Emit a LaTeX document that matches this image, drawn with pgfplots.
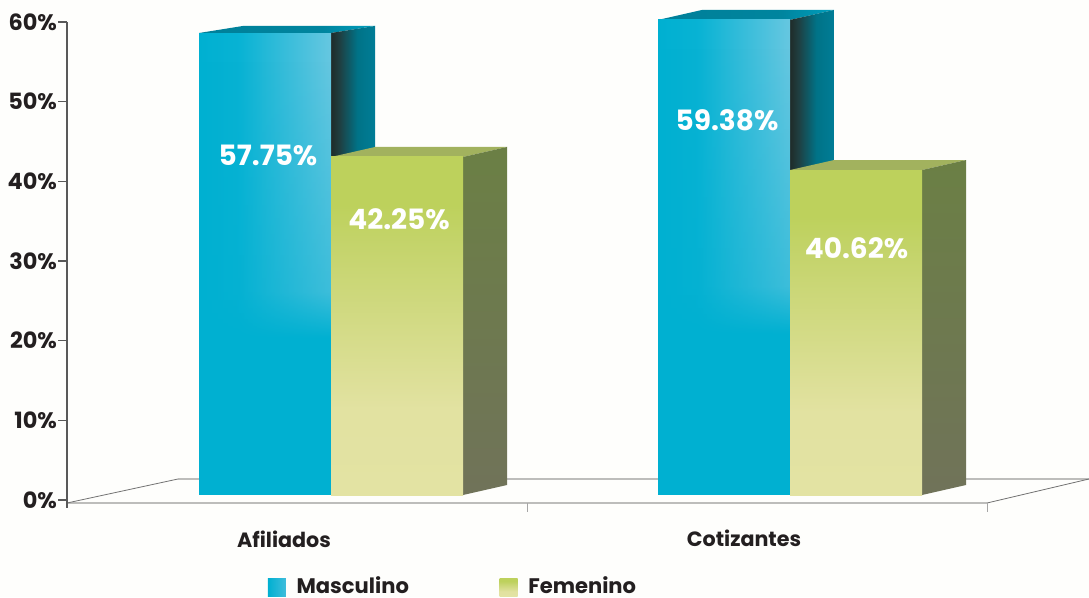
\documentclass[border=0pt]{standalone}
\usepackage{pgfplots}
\pgfplotsset{compat=1.18}
\usepackage{fontspec}
\setmainfont{Poppins}
\usetikzlibrary{fadings}
\definecolor{txt}{HTML}{231F20}
\definecolor{bg}{HTML}{FEFEFC}
\definecolor{flo}{HTML}{BDBDBB}
\pgfdeclarehorizontalshading{bluefront}{100bp}{rgb(0bp)=(0,.69,.82);rgb(25bp)=(0,.69,.82);rgb(40bp)=(.03,.70,.83);rgb(75bp)=(.40,.78,.88);rgb(100bp)=(.40,.78,.88)}
\pgfdeclarehorizontalshading{legblue}{100bp}{rgb(0bp)=(0,.69,.82);rgb(25bp)=(0,.69,.82);rgb(75bp)=(.25,.74,.86);rgb(100bp)=(.25,.74,.86)}
\pgfdeclarehorizontalshading{blueside}{100bp}{rgb(0bp)=(.12,.17,.16);rgb(25bp)=(.12,.17,.16);rgb(35bp)=(.12,.25,.26);rgb(55bp)=(0,.45,.53);rgb(75bp)=(0,.49,.59);rgb(100bp)=(0,.49,.59)}
\pgfdeclarehorizontalshading{bluetop}{100bp}{rgb(0bp)=(0,.50,.60);rgb(25bp)=(0,.50,.60);rgb(60bp)=(0,.52,.62);rgb(75bp)=(0,.62,.74);rgb(100bp)=(0,.62,.74)}
\pgfdeclareverticalshading{greenfront}{100bp}{rgb(0bp)=(.89,.89,.64);rgb(25bp)=(.89,.89,.64);rgb(38bp)=(.885,.885,.63);rgb(62bp)=(.77,.83,.42);rgb(68bp)=(.74,.82,.36);rgb(75bp)=(.74,.82,.36);rgb(100bp)=(.74,.82,.36)}
\pgfdeclareverticalshading{greenside}{100bp}{rgb(0bp)=(.44,.45,.35);rgb(25bp)=(.44,.45,.35);rgb(75bp)=(.42,.50,.27);rgb(100bp)=(.42,.50,.27)}
\pgfdeclareverticalshading{tfsh}{100bp}{color(0bp)=(black);color(25bp)=(black);color(42bp)=(black);color(47bp)=(white!60!black);color(72bp)=(white);color(100bp)=(white)}
\pgfdeclarefading{topfade}{\pgfuseshading{tfsh}}
\begin{document}
\begin{tikzpicture}[x=1pt,y=1pt]
\path[use as bounding box,fill=bg] (0,0) rectangle (816.75pt,447.75pt);
% value axis: 0% at y=500 px, 60% at y=22 px, x=67 px
\begin{axis}[at={(50.25pt,72.75pt)},anchor=south west,scale only axis,
  width=690pt,height=358.5pt,xmin=0,xmax=1,ymin=0,ymax=60,
  axis x line=none,axis y line=left,
  axis line style={-,draw=black!65,line width=.8pt},
  ytick={0,10,...,60},yticklabel={\pgfmathprintnumber{\tick}\%},
  /pgf/number format/assume math mode=true,
  ticklabel style={font=\bfseries\fontsize{16.8}{17}\selectfont,text=txt},
  tick style={draw=black!65,line width=.8pt},major tick length=6.5pt,
  tick align=outside,ytick pos=left,yticklabel style={xshift=2.5pt}]
\end{axis}
% picture axis in reference pixels (x) and percent on the front plane (y)
\begin{axis}[at={(0pt,0pt)},anchor=south west,scale only axis,
  width=816.75pt,height=447.75pt,
  xmin=0,xmax=1089,ymin=-12.75,ymax=61.875,hide axis,clip=false,
  legend style={at={(rel axis cs:0.246,0.0015)},anchor=south west,draw=none,fill=none,
    legend columns=2,inner sep=0pt,outer sep=0pt,
    /tikz/every even column/.append style={column sep=68pt},
    nodes={font=\bfseries\fontsize{15.8}{16}\selectfont,text=txt,inner sep=0pt,anchor=west}},
]
% legend
\addlegendimage{legend image code/.code={\shade[shading=legblue,draw=none] (0pt,-7.5pt) rectangle (13.5pt,5.5pt);}}
\addlegendentry{\hspace{8pt}Masculino}
\addlegendimage{legend image code/.code={\shade[shading=greenfront,draw=none] (0pt,-7.5pt) rectangle (13.5pt,5.5pt);}}
\addlegendentry{\hspace{8pt}Femenino}
% floor
\addplot[flo,line width=1.1pt] coordinates {(67,-1) (987,-1)};
\addplot[flo,line width=1.1pt] coordinates {(178,2) (1089,2)};
\addplot[black!55,line width=.6pt] coordinates {(67,-1) (178,2)};
\addplot[black!55,line width=.6pt] coordinates {(987,-1) (1089,2)};
\addplot[black!35,line width=.6pt] coordinates {(527,-1) (527,-2.1)};
\addplot[black!35,line width=.6pt] coordinates {(987,-1) (987,-2.1)};
\addplot[black!65,line width=.8pt] coordinates {(67,-.6) (67,-1.6)};
% Afiliados Masculino 57.75
\addplot[draw=none,shading=bluetop] coordinates {(199,57.75) (243,58.63) (375,58.63) (331,57.75)} --cycle;
\addplot[draw=none,shading=blueside] coordinates {(331,0) (375,1.25) (375,58.63) (331,57.75)} --cycle;
\addplot[draw=none,fill={rgb,255:red,0;green,176;blue,209}] coordinates {(199,0) (331,0) (331,57.75) (199,57.75)} --cycle;
\addplot[draw=none,shading=bluefront,path fading=topfade] coordinates {(199,0) (331,0) (331,57.75) (199,57.75)} --cycle;
% Afiliados Femenino 42.25
\addplot[draw=none,fill={rgb,255:red,162;green,178;blue,94}] coordinates {(331,42.25) (375,43.5) (507,43.5) (463,42.25)} --cycle;
\addplot[draw=none,shading=greenside] coordinates {(463,0) (507,1.25) (507,43.5) (463,42.25)} --cycle;
\addplot[draw=none,shading=greenfront] coordinates {(331,0) (463,0) (463,42.25) (331,42.25)} --cycle;
% Cotizantes Masculino 59.38
\addplot[draw=none,shading=bluetop] coordinates {(658,59.38) (702,60.63) (834,60.63) (790,59.38)} --cycle;
\addplot[draw=none,shading=blueside] coordinates {(790,0) (834,1.25) (834,60.63) (790,59.38)} --cycle;
\addplot[draw=none,fill={rgb,255:red,0;green,176;blue,209}] coordinates {(658,0) (790,0) (790,59.38) (658,59.38)} --cycle;
\addplot[draw=none,shading=bluefront,path fading=topfade] coordinates {(658,0) (790,0) (790,59.38) (658,59.38)} --cycle;
% Cotizantes Femenino 40.62
\addplot[draw=none,fill={rgb,255:red,162;green,178;blue,94}] coordinates {(790,40.62) (834,41.87) (966,41.87) (922,40.62)} --cycle;
\addplot[draw=none,shading=greenside] coordinates {(922,0) (966,1.25) (966,41.87) (922,40.62)} --cycle;
\addplot[draw=none,shading=greenfront] coordinates {(790,0) (922,0) (922,40.62) (790,40.62)} --cycle;
% data labels
\tikzset{dl/.style={text=white,font=\bfseries\fontsize{21}{22}\selectfont,inner sep=0pt}}
\node[dl] at (axis cs:268,42.5) {57.75\%};
\node[dl] at (axis cs:399,34.5) {42.25\%};
\node[dl] at (axis cs:727,46.9) {59.38\%};
\node[dl] at (axis cs:856.5,30.9) {40.62\%};
% categories
\tikzset{cat/.style={text=txt,font=\bfseries\fontsize{15.5}{16}\selectfont,inner sep=0pt}}
\node[cat] at (axis cs:284,-5.6) {Afiliados};
\node[cat] at (axis cs:744,-5.4) {Cotizantes};
\end{axis}
\end{tikzpicture}
\end{document}
